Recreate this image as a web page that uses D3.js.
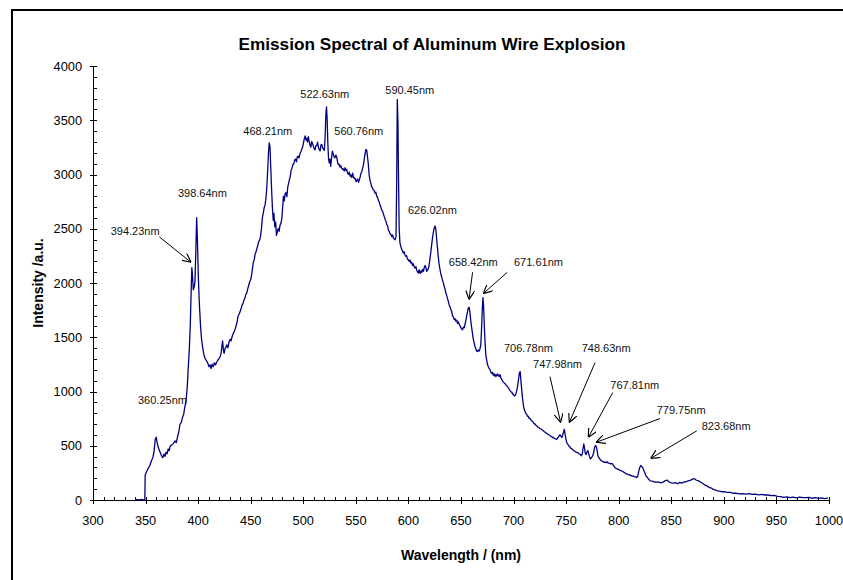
<!DOCTYPE html>
<html>
<head>
<meta charset="utf-8">
<script src="https://cdn.jsdelivr.net/npm/d3@7"></script>
<style>
  body { margin: 0; background: #fff; }
  svg { display: block; }
</style>
</head>
<body>
<svg id="chart" width="843" height="580"></svg>
<script>
// Measured emission spectrum: [wavelength (nm), intensity (a.u.)]
const spectrum = [
  [340,0],[342,4],[344,0],[346,6],[348,2],[349.3,0],[349.6,228],[351,262],[352.5,292],[354,316],
  [355.5,360],[357,392],[358,444],[359.2,560],[360.2,578],[361,528],[362,488],[363.5,446],[365,412],[366.3,390],
  [367.5,422],[368.5,402],[369.5,442],[370.5,426],[371.5,470],[372.5,455],[373.5,500],[375,508],[376.5,522],[378,545],
  [379.2,530],[380.3,578],[381.5,622],[382.7,698],[384,716],[385.2,764],[386.2,786],[387.2,852],[388.5,912],[389.7,1052],
  [390.5,1205],[391.6,1390],[392.5,1602],[393.3,1900],[394.0,2142],[394.6,2075],[395.4,1938],[396.2,1962],[397.0,2012],[397.8,2300],
  [398.6,2602],[399.3,2400],[400.2,2050],[401.2,1800],[402.3,1600],[403.3,1478],[404.5,1392],[405.5,1338],[406.7,1302],[408,1282],
  [409.2,1262],[410.3,1228],[411.3,1246],[412.3,1212],[413.3,1252],[414.3,1228],[415.4,1264],[416.5,1245],[417.6,1272],[418.7,1288],
  [419.8,1302],[420.8,1318],[421.8,1352],[422.6,1420],[423.3,1466],[424,1384],[424.7,1352],[425.6,1398],[426.5,1408],[427.3,1430],
  [428.3,1402],[429.3,1452],[430.3,1480],[431.3,1466],[432.2,1502],[433.1,1528],[434.1,1548],[435.1,1572],[436,1604],[437,1638],
  [437.9,1692],[438.9,1712],[439.8,1732],[440.8,1762],[441.7,1794],[442.7,1812],[443.6,1845],[444.5,1858],[445.4,1898],[446.3,1908],
  [447.2,1948],[448.2,1982],[449.1,2014],[450,2032],[450.9,2078],[451.7,2138],[452.5,2192],[453.4,2216],[454.2,2268],[455,2286],
  [455.8,2314],[456.7,2346],[457.6,2380],[458.5,2396],[459.4,2434],[460.3,2508],[461.1,2604],[462,2646],[462.8,2694],[463.7,2722],
  [464.6,2792],[465.4,2898],[466.2,3052],[466.9,3200],[467.6,3292],[468.3,3258],[469,3080],[469.8,2878],[470.6,2702],[471.4,2578],
  [472.1,2642],[472.9,2518],[473.7,2562],[474.5,2438],[475.3,2472],[476.1,2502],[477,2476],[477.9,2534],[478.8,2552],[479.6,2594],
  [480.4,2702],[481.1,2800],[481.9,2756],[482.7,2824],[483.5,2832],[484.4,2796],[485.2,2884],[486,2918],[486.9,2954],[487.7,2988],
  [488.5,3044],[489.3,3058],[490.1,3094],[491,3098],[491.8,3134],[492.7,3142],[493.5,3116],[494.3,3164],[495.2,3168],[496,3152],
  [496.9,3194],[497.8,3212],[498.6,3234],[499.5,3258],[500.4,3304],[501.2,3338],[501.8,3356],[502.5,3318],[503.2,3334],[504,3298],
  [504.8,3348],[505.6,3306],[506.4,3272],[507.2,3252],[508,3304],[508.8,3286],[509.6,3262],[510.4,3236],[511.2,3228],[512,3266],
  [512.8,3268],[513.6,3298],[514.4,3248],[515.2,3232],[516,3218],[516.8,3272],[517.6,3278],[518.4,3244],[519.2,3236],[520,3222],
  [520.8,3352],[521.5,3560],[522.1,3622],[522.7,3508],[523.3,3300],[524,3148],[524.7,3108],[525.4,3142],[526.1,3074],[526.9,3152],
  [527.7,3216],[528.5,3188],[529.3,3162],[530.1,3154],[530.9,3178],[531.7,3164],[532.5,3118],[533.3,3092],[534.1,3096],[534.9,3068],
  [535.7,3082],[536.5,3058],[537.3,3046],[538.1,3052],[538.9,3032],[539.7,3062],[540.5,3038],[541.3,3046],[542.1,3012],[542.9,3002],
  [543.7,3022],[544.5,2984],[545.3,2996],[546.1,2972],[546.9,3012],[547.7,2978],[548.5,2962],[549.3,2966],[550.1,2934],[550.9,2948],
  [551.7,2958],[552.5,2928],[553.3,2952],[554.1,2978],[554.9,3012],[555.7,3028],[556.5,3062],[557.3,3094],[558.1,3152],[558.9,3198],
  [559.6,3232],[560.3,3224],[561,3168],[561.8,3102],[562.6,3000],[563.4,2948],[564.2,2922],[565,2888],[565.8,2878],[566.6,2858],
  [567.4,2852],[568.2,2828],[569,2838],[569.8,2798],[570.6,2792],[571.4,2762],[572.2,2748],[573,2718],[573.8,2698],[574.6,2672],
  [575.4,2662],[576.2,2636],[577,2612],[577.8,2588],[578.6,2568],[579.4,2538],[580.2,2528],[581,2488],[581.8,2472],[582.6,2452],
  [583.4,2448],[584.2,2428],[585,2442],[585.8,2412],[586.6,2406],[587.4,2398],[588.2,2432],[588.8,2900],[589.4,3692],[590,3500],
  [590.6,2950],[591.2,2500],[591.9,2372],[592.7,2338],[593.5,2312],[594.3,2298],[595.1,2276],[595.9,2288],[596.7,2258],[597.5,2246],
  [598.3,2252],[599.1,2218],[599.9,2216],[600.7,2198],[601.5,2212],[602.3,2184],[603.1,2192],[603.9,2162],[604.7,2176],[605.5,2148],
  [606.3,2138],[607.1,2152],[607.9,2118],[608.7,2102],[609.5,2092],[610.3,2122],[611.1,2088],[611.9,2112],[612.7,2098],[613.5,2126],
  [614.3,2108],[615.1,2146],[615.9,2162],[616.7,2138],[617.5,2108],[618.3,2122],[619.1,2134],[619.9,2182],[620.7,2238],[621.5,2302],
  [622.3,2368],[623.1,2432],[623.9,2478],[624.7,2512],[625.3,2526],[626,2498],[626.7,2422],[627.5,2338],[628.3,2252],[629.1,2178],
  [629.9,2132],[630.7,2088],[631.5,2062],[632.3,2028],[633.1,2006],[633.9,1972],[634.7,1948],[635.5,1912],[636.3,1888],[637.1,1858],
  [637.9,1832],[638.7,1798],[639.5,1782],[640.3,1758],[641.1,1738],[641.9,1698],[642.7,1688],[643.5,1662],[644.3,1672],[645.1,1648],
  [645.9,1658],[646.7,1628],[647.5,1642],[648.3,1618],[649.1,1606],[649.9,1588],[650.7,1576],[651.5,1568],[652.3,1596],[653.1,1588],
  [653.9,1622],[654.7,1658],[655.5,1702],[656.3,1738],[657,1772],[657.7,1776],[658.4,1738],[659.2,1662],[660,1598],[660.8,1542],
  [661.6,1488],[662.4,1452],[663.2,1418],[664,1396],[664.8,1374],[665.6,1368],[666.4,1382],[667.2,1372],[668,1392],[668.8,1428],
  [669.5,1562],[670.2,1752],[670.9,1866],[671.5,1788],[672.2,1600],[672.9,1452],[673.6,1338],[674.4,1292],[675.2,1248],[676,1228],
  [676.8,1212],[677.6,1202],[678.4,1178],[679.2,1166],[680,1176],[680.8,1148],[681.6,1162],[682.4,1138],[683.2,1156],[684,1142],
  [684.8,1162],[685.6,1148],[686.4,1138],[687.2,1156],[688,1124],[688.8,1112],[689.6,1094],[690.4,1086],[691.2,1078],[692,1072],
  [692.8,1058],[693.6,1052],[694.4,1042],[695.2,1032],[696,1018],[696.8,1006],[697.6,998],[698.4,992],[699.2,974],[700,972],
  [700.8,958],[701.6,966],[702.4,982],[703.2,1018],[704,1062],[704.8,1118],[705.6,1176],[706.3,1182],[707,1098],[707.7,1022],
  [708.4,948],[709.2,882],[710,838],[710.8,818],[711.6,798],[712.4,792],[713.2,772],[714,772],[714.8,752],[715.6,752],
  [716.4,738],[717.2,732],[718,722],[718.8,716],[719.6,702],[720.4,702],[721.2,688],[722,686],[723,672],[724,670],
  [725,658],[726,656],[727,646],[728,642],[729,630],[730,626],[731,616],[732,612],[733,602],[734,600],
  [735,588],[736,586],[737,576],[738,576],[739,566],[740,564],[741,558],[742,572],[743,584],[744,602],
  [745,588],[746,576],[746.8,602],[747.5,624],[748.2,652],[749,608],[749.8,562],[750.6,528],[751.5,516],[752.5,498],
  [753.5,492],[754.5,476],[755.5,472],[756.5,460],[757.5,456],[758.5,446],[759.5,442],[760.5,436],[761.5,434],[762.5,424],
  [763.5,420],[764.5,408],[765.3,422],[766,470],[766.8,516],[767.5,478],[768.2,430],[769,418],[769.8,442],[770.6,456],
  [771.4,428],[772.2,402],[773,378],[773.8,386],[774.6,398],[775.4,412],[776.2,438],[777,482],[777.8,502],[778.6,494],
  [779.4,462],[780.2,408],[781,392],[782,378],[783,366],[784,358],[785,356],[786,348],[787,350],[788,344],
  [789,352],[790,340],[791,340],[792,334],[793,334],[794,336],[795,318],[796,306],[797,294],[798,290],
  [799,284],[800,282],[801,274],[802,272],[803,266],[804,264],[805,254],[806,250],[807,240],[808,240],
  [809,234],[810,234],[811,226],[812,226],[813,220],[814,220],[815,214],[816,214],[817,206],[818,216],
  [819,262],[820,300],[821,318],[822,308],[823,296],[824,270],[825,246],[826,220],[827,212],[828,198],
  [829,186],[830,176],[832,174],[834,166],[836,164],[838,166],[840,158],[842,164],[844,176],[846,184],
  [848,166],[850,158],[852,156],[854,160],[856,150],[858,162],[860,156],[862,166],[864,168],[866,176],
  [868,180],[870,192],[872,196],[874,182],[876,176],[878,164],[880,152],[882,138],[884,130],[886,116],
  [888,110],[890,98],[892,92],[894,84],[896,82],[898,76],[900,78],[903,70],[906,70],[909,62],
  [912,62],[915,56],[918,58],[921,54],[924,58],[927,52],[930,54],[933,48],[936,52],[939,46],
  [942,46],[945,40],[948,42],[951,34],[954,32],[957,24],[960,28],[963,22],[966,27],[969,20],
  [972,26],[975,22],[978,21],[981,24],[984,16],[987,21],[990,15],[993,19],[996,13],[999,17]
];

// Axis ticks
const xMajorTicks = [300, 350, 400, 450, 500, 550, 600, 650, 700, 750, 800, 850, 900, 950, 1000];
const xMinorStep = 10;
const yMajorTicks = [0, 500, 1000, 1500, 2000, 2500, 3000, 3500, 4000];
const yMinorStep = 100;

// Peak annotations: label anchor and optional arrow, in data units
const peakLabels = [
  { peak: 360.25, at: [342.8, 883] },
  { peak: 394.23, at: [316.8, 2446], arrow: [[363.1, 2425], [393.2, 2191]] },
  { peak: 398.64, at: [380.8, 2795] },
  { peak: 468.21, at: [443.0, 3365] },
  { peak: 522.63, at: [497.2, 3706] },
  { peak: 560.76, at: [529.5, 3365] },
  { peak: 590.45, at: [578.0, 3742] },
  { peak: 626.02, at: [599.6, 2639] },
  { peak: 658.42, at: [638.4, 2161], arrow: [[661.0, 2099], [657.6, 1848]] },
  { peak: 671.61, at: [700.4, 2161], arrow: [[694.0, 2099], [671.2, 1903]] },
  { peak: 706.78, at: [690.9, 1361] },
  { peak: 748.63, at: [764.8, 1361], arrow: [[777.5, 1266], [753.0, 714]] },
  { peak: 747.98, at: [718.5, 1214], arrow: [[734.6, 1137], [744.8, 714]] },
  { peak: 767.81, at: [792.0, 1021], arrow: [[794.3, 990], [771.1, 577]] },
  { peak: 779.75, at: [836.1, 791], arrow: [[839.3, 751], [778.4, 531]] },
  { peak: 823.68, at: [878.9, 644], arrow: [[874.2, 637], [830.4, 383]] }
];

const titleText = "Emission Spectral of Aluminum Wire Explosion";
const xTitle = "Wavelength / (nm)";
const yTitle = "Intensity /a.u.";

const FONT = "'Liberation Sans', Arial, Helvetica, sans-serif";
const svg = d3.select("#chart");
const plot = { left: 93, right: 829, top: 66, bottom: 500 };

const x = d3.scaleLinear().domain([300, 1000]).range([plot.left, plot.right]);
const y = d3.scaleLinear().domain([0, 4000]).range([plot.bottom, plot.top]);

// Outer frame
svg.append("rect")
  .attr("x", 12).attr("y", 10)
  .attr("width", 900).attr("height", 700)
  .attr("fill", "none").attr("stroke", "#000").attr("stroke-width", 2);

// Title
svg.append("text")
  .attr("x", 432).attr("y", 50)
  .attr("text-anchor", "middle")
  .attr("font-family", FONT).attr("font-size", 17.2).attr("font-weight", "bold")
  .text(titleText);

// Axes
const axes = svg.append("g").attr("stroke", "#000").attr("stroke-width", 1).attr("shape-rendering", "crispEdges");
axes.append("line")
  .attr("x1", x(300)).attr("x2", x(1000))
  .attr("y1", y(0) + 0.5).attr("y2", y(0) + 0.5);
axes.append("line")
  .attr("x1", x(300) + 0.5).attr("x2", x(300) + 0.5)
  .attr("y1", y(0)).attr("y2", y(4000));

const xMinor = d3.range(300, 1000 + 1, xMinorStep).filter(v => !xMajorTicks.includes(v));
axes.selectAll(".xmin").data(xMinor).join("line")
  .attr("x1", d => Math.round(x(d)) + 0.5).attr("x2", d => Math.round(x(d)) + 0.5)
  .attr("y1", y(0) + 0.5).attr("y2", y(0) - 3);
axes.selectAll(".xmaj").data(xMajorTicks).join("line")
  .attr("x1", d => Math.round(x(d)) + 0.5).attr("x2", d => Math.round(x(d)) + 0.5)
  .attr("y1", y(0) - 3).attr("y2", y(0) + 4);

const yMinor = d3.range(0, 4000 + 1, yMinorStep).filter(v => !yMajorTicks.includes(v));
axes.selectAll(".ymin").data(yMinor).join("line")
  .attr("x1", x(300)).attr("x2", x(300) + 4)
  .attr("y1", d => Math.round(y(d)) + 0.5).attr("y2", d => Math.round(y(d)) + 0.5);
axes.selectAll(".ymaj").data(yMajorTicks).join("line")
  .attr("x1", x(300) - 3).attr("x2", x(300) + 4)
  .attr("y1", d => Math.round(y(d)) + 0.5).attr("y2", d => Math.round(y(d)) + 0.5);

// Tick labels
svg.append("g").selectAll("text").data(xMajorTicks).join("text")
  .attr("x", d => x(d)).attr("y", y(0) + 25)
  .attr("text-anchor", "middle")
  .attr("font-family", FONT).attr("font-size", 12.8).attr("fill", "#000")
  .text(d => d);
svg.append("g").selectAll("text").data(yMajorTicks).join("text")
  .attr("x", x(300) - 11).attr("y", d => y(d) + 4.5)
  .attr("text-anchor", "end")
  .attr("font-family", FONT).attr("font-size", 12.8).attr("fill", "#000")
  .text(d => d);

// Axis titles
svg.append("text")
  .attr("x", (plot.left + plot.right) / 2).attr("y", 560)
  .attr("text-anchor", "middle")
  .attr("font-family", FONT).attr("font-size", 14).attr("font-weight", "bold")
  .text(xTitle);
svg.append("text")
  .attr("transform", `translate(43, ${(plot.top + plot.bottom) / 2}) rotate(-90)`)
  .attr("text-anchor", "middle")
  .attr("font-family", FONT).attr("font-size", 14).attr("font-weight", "bold")
  .text(yTitle);

// Spectrum trace
const line = d3.line().x(d => x(d[0])).y(d => y(d[1]));
svg.append("path")
  .datum(spectrum)
  .attr("d", line)
  .attr("fill", "none")
  .attr("stroke", "#000080")
  .attr("stroke-width", 1.3)
  .attr("stroke-linejoin", "round");

// Arrow marker
svg.append("defs").append("marker")
  .attr("id", "arrowhead")
  .attr("viewBox", "0 0 10 10")
  .attr("refX", 10).attr("refY", 5)
  .attr("markerWidth", 9).attr("markerHeight", 9)
  .attr("markerUnits", "userSpaceOnUse")
  .attr("orient", "auto")
  .append("path")
  .attr("d", "M0,0 L10,5 L0,10")
  .attr("fill", "none").attr("stroke", "#000").attr("stroke-width", 1.3);

const ann = svg.append("g");
ann.selectAll("line").data(peakLabels.filter(d => d.arrow)).join("line")
  .attr("x1", d => x(d.arrow[0][0])).attr("y1", d => y(d.arrow[0][1]))
  .attr("x2", d => x(d.arrow[1][0])).attr("y2", d => y(d.arrow[1][1]))
  .attr("stroke", "#000").attr("stroke-width", 1)
  .attr("marker-end", "url(#arrowhead)");
ann.selectAll("text").data(peakLabels).join("text")
  .attr("x", d => x(d.at[0])).attr("y", d => y(d.at[1]))
  .attr("font-family", FONT).attr("font-size", 11).attr("fill", "#111")
  .text(d => d.peak.toFixed(2) + "nm");
</script>
</body>
</html>
